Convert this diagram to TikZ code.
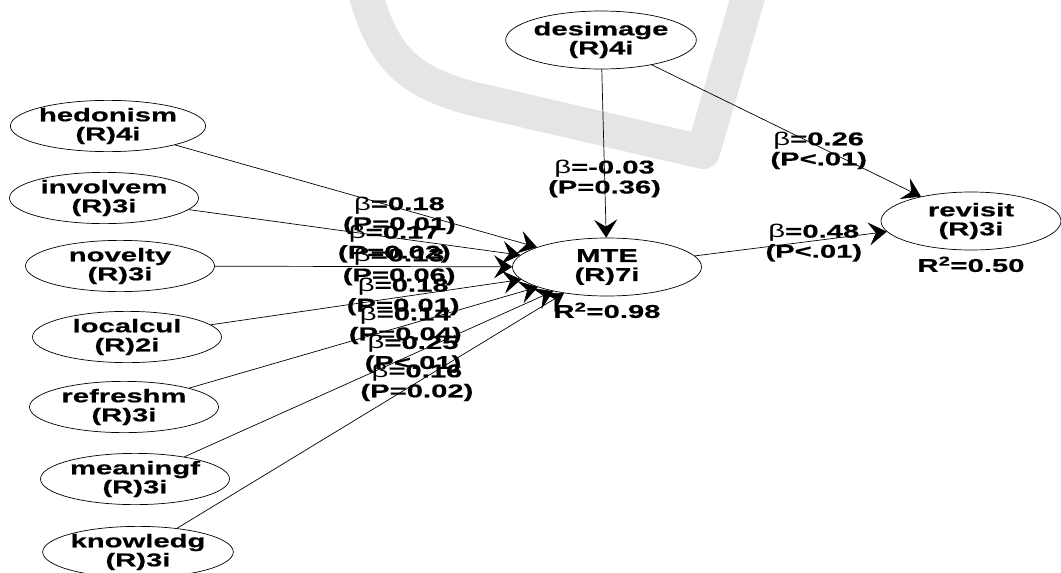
\documentclass[tikz,border=0pt]{standalone}
\usepackage{fontspec}
\newfontfamily\plsfont{Liberation Sans}[FakeStretch=1.58, BoldFeatures={FakeBold=0.6}]
\usetikzlibrary{positioning,arrows.meta,shapes.geometric}

\begin{document}
\begin{tikzpicture}[x=1pt, y=-1pt,
        LV/.style={ellipse, draw, line width=0.7pt, minimum width=189pt, minimum height=50pt, inner sep=0pt, align=center, font=\plsfont\bfseries\fontsize{18.5}{19}\selectfont},
        DV/.style={LV, minimum height=58pt},
        est/.style={pos=0.62, align=center, inner sep=0pt, font=\plsfont\bfseries\fontsize{18.5}{20}\selectfont},
        rsq/.style={inner sep=0pt, font=\plsfont\bfseries\fontsize{18.5}{20}\selectfont},
        link/.style={-{Stealth[length=18pt,width=23pt,inset=7pt]}, line width=0.7pt},
        wmark/.style={line width=34pt, black!10},
        node distance=6pt
    ]
    \useasboundingbox (0,0) rectangle (1061,573);
    % watermark
    \draw[wmark, line join=round] (362,-20) .. controls (380,55) and (405,80) .. (470,98) -- (703,152) -- (753,-20);

    \node[LV] (hedon)    at (108,126) {hedonism\\(R)4i};
    \node[LV] (invol)    at (104,198) {involvem\\(R)3i};
    \node[LV] (novel)    at (120,266) {novelty\\(R)3i};
    \node[LV] (local)    at (127,337) {localcul\\(R)2i};
    \node[LV] (refresh)  at (124,407) {refreshm\\(R)3i};
    \node[LV] (meaning)  at (135,479) {meaningf\\(R)3i};
    \node[LV] (knowl)    at (138,552) {knowledg\\(R)3i};

    \node[DV] (desim)    at (601,40)  {desimage\\(R)4i};
    \node[DV] (mte)      at (607,267) {MTE\\(R)7i};
    \node[DV, minimum width=180pt] (revisit) at (971,221) {revisit\\(R)3i};

    \node[rsq] (r2mte) [below=of mte.south]     {R\textsuperscript{2}=0.98};
    \node[rsq] (r2rev) [below=of revisit.south] {R\textsuperscript{2}=0.50};

    \draw[link] (hedon)   -- node[est, yshift=-7pt] {{\mdseries β}=0.18\\(P=0.01)} (mte);
    \draw[link] (invol)   -- node[est, yshift=-6pt] {{\mdseries β}=0.17\\(P=0.02)} (mte);
    \draw[link] (novel)   -- node[est] {{\mdseries β}=0.13\\(P=0.06)} (mte);
    \draw[link] (local)   -- node[est] {{\mdseries β}=0.18\\(P=0.01)} (mte);
    \draw[link] (refresh) -- node[est] {{\mdseries β}=0.14\\(P=0.04)} (mte);
    \draw[link] (meaning) -- node[est] {{\mdseries β}=0.25\\(P<.01)} (mte);
    \draw[link] (knowl)   -- node[est] {{\mdseries β}=0.16\\(P=0.02)} (mte);

    \draw[link] (desim) -- node[est, yshift=-5pt] {{\mdseries β}=-0.03\\(P=0.36)} (mte);
    \draw[link] (desim) -- node[est, yshift=-4pt] {{\mdseries β}=0.26\\(P<.01)} (revisit);
    \draw[link] (mte)   -- node[est, yshift=-2pt] {{\mdseries β}=0.48\\(P<.01)} (revisit);
\end{tikzpicture}
\end{document}
